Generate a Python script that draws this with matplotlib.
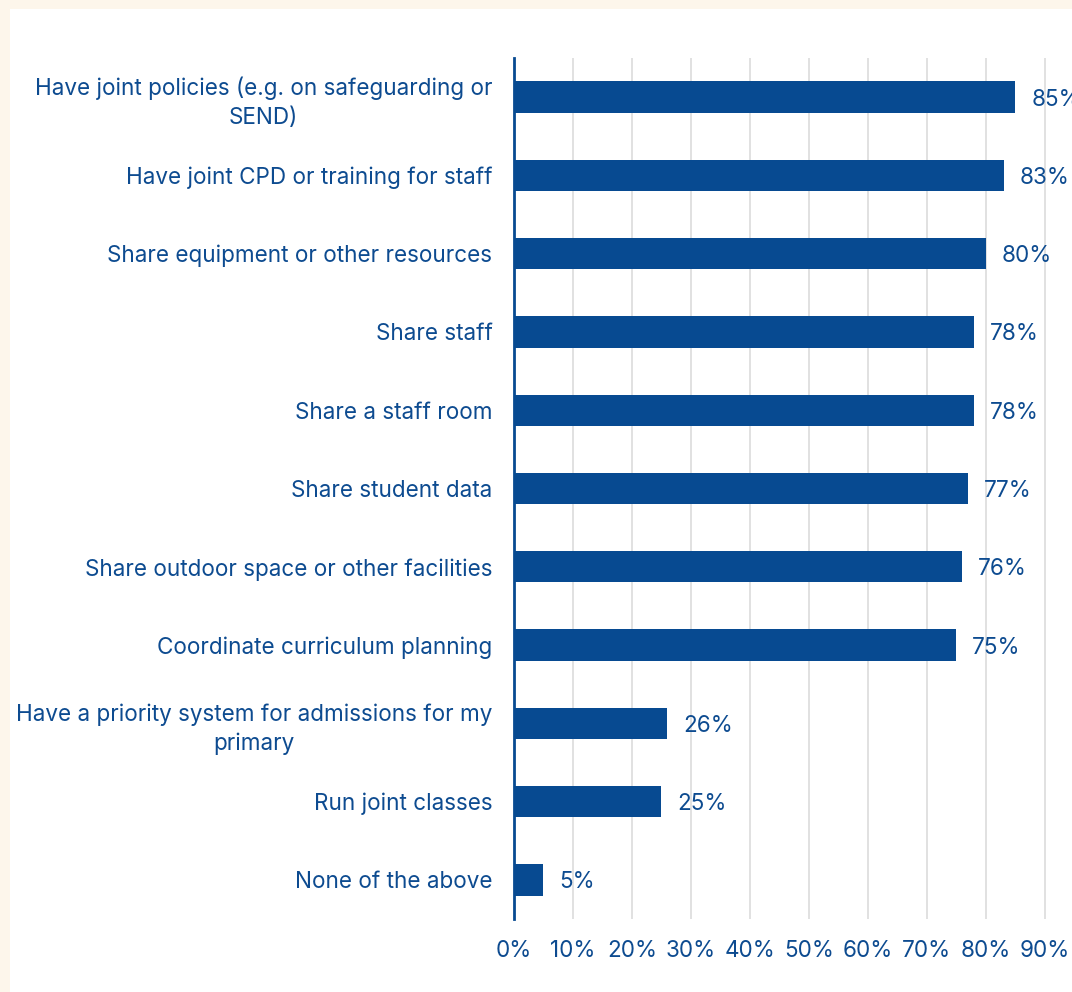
import matplotlib.pyplot as plt
from matplotlib.patches import Rectangle

# survey answers, top to bottom
categories = [
    "Have joint policies (e.g. on safeguarding or\nSEND)",
    "Have joint CPD or training for staff",
    "Share equipment or other resources",
    "Share staff",
    "Share a staff room",
    "Share student data",
    "Share outdoor space or other facilities",
    "Coordinate curriculum planning",
    "Have a priority system for admissions for my\nprimary",
    "Run joint classes",
    "None of the above",
]
percents = [85, 83, 80, 78, 78, 77, 76, 75, 26, 25, 5]
xticks = [0, 10, 20, 30, 40, 50, 60, 70, 80, 90]

BLUE = "#074a91"
TEXT = "#0d4b90"
CREAM = "#fdf6eb"
FS = 16.2

plt.rcParams['font.family'] = ['Inter', 'DejaVu Sans']

fig = plt.figure(figsize=(10.72, 9.92), dpi=100, facecolor=CREAM)
# white card on the cream page, kept behind the axes
fig.add_artist(Rectangle((10 / 1072, 0), 1, 1 - 9 / 992, transform=fig.transFigure,
                         facecolor="white", edgecolor="none", zorder=-5))

ax = fig.add_axes([514 / 1072, 1 - 919 / 992, (1072 - 514) / 1072, (919 - 58) / 992])
ax.set_facecolor("none")

y = list(range(len(categories)))
ax.barh(y, percents, height=0.4, color=BLUE, zorder=3)
for yi, v in zip(y, percents):
    ax.text(v + 2.7, yi, f"{v}%", va="center_baseline", ha="left", fontsize=FS, color=TEXT)

ax.set_ylim(len(categories) - 0.5, -0.5)
ax.set_xlim(0, 94.6)
ax.set_yticks(y)
ax.set_yticklabels(categories, fontsize=FS, color=TEXT, ha="right",
                   multialignment="center", linespacing=1.38)
ax.tick_params(axis="y", length=0, pad=15.5)

ax.set_xticks(xticks)
ax.set_xticklabels([f"{t}%" for t in xticks], fontsize=FS, color=TEXT)
ax.tick_params(axis="x", length=0, pad=15)
ax.grid(axis="x", color="#dcdcdc", linewidth=1.2, zorder=0)

for s in ["top", "right", "bottom"]:
    ax.spines[s].set_visible(False)
ax.spines["left"].set_color(BLUE)
ax.spines["left"].set_linewidth(2)
ax.spines["left"].set_zorder(4)

fig.savefig("out.png", dpi=100, facecolor=CREAM)
